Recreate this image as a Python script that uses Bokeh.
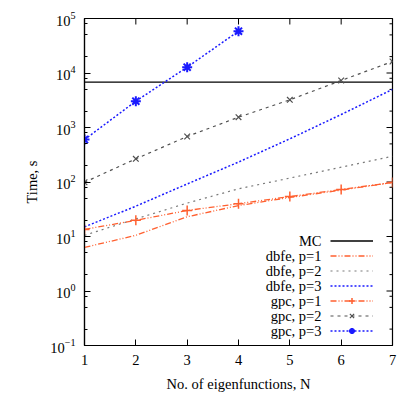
import math
from bokeh.plotting import figure
from bokeh.models import FixedTicker, Legend, LegendItem, Label
from bokeh.core.properties import value
from bokeh.embed import file_html
from bokeh.resources import INLINE

# ---------------- data ----------------
N = [1, 2, 3, 4, 5, 6, 7]
N_GPC3 = [1, 2, 3, 4]
MC_TIME = 6800
dbfe_p1 = [6.3, 10.5, 23.0, 37.0, 52.0, 71.0, 98.0]
dbfe_p2 = [10.5, 21.0, 41.0, 75.0, 118.0, 187.0, 297.0]
dbfe_p3 = [15.0, 36.0, 92.0, 232.0, 620.0, 1730.0, 5000.0]
gpc_p1 = [13.5, 19.8, 30.0, 40.0, 54.0, 73.0, 98.0]
gpc_p2 = [99.0, 266.0, 684.0, 1545.0, 3220.0, 7280.0, 16250.0]
gpc_p3 = [600.0, 3040.0, 12800.0, 58500.0]

x_ticks = [1, 2, 3, 4, 5, 6, 7]
y_major = [0.1, 1, 10, 100, 1000, 10000, 100000]
y_minor_mult = [2, 5, 8]

legend_labels = ["MC", "dbfe, p=1", "dbfe, p=2", "dbfe, p=3",
                 "gpc, p=1", "gpc, p=2", "gpc, p=3"]

# ---------------- styles ----------------
FONT = "Liberation Serif"
FS = "14.5px"
ORANGE = "#ff6030"
GRAY_LT = "#7a7a7a"
GRAY_DK = "#505050"
BLUE = "#1a1aff"
DASHDOT2 = "6 2 1 2 1 2"
MAJOR_LEN = 6
MINOR_LEN = 3

p = figure(width=410, height=395, x_range=(x_ticks[0], x_ticks[-1]),
           y_range=(y_major[0], y_major[-1]),
           y_axis_type="log", output_backend="svg", toolbar_location=None,
           min_border_left=84, min_border_right=18, min_border_top=18,
           min_border_bottom=50)
p.xgrid.visible = False
p.ygrid.visible = False
p.outline_line_color = "black"
p.outline_line_width = 1.2

y_minor = [m * t for t in y_major[:-1] for m in y_minor_mult]
yticker = FixedTicker(ticks=y_major, minor_ticks=y_minor)
xticker = FixedTicker(ticks=x_ticks, minor_ticks=[])


def style_axis(ax, standoff):
    ax.axis_line_color = "black"
    ax.axis_line_width = 1.2
    ax.major_tick_in = MAJOR_LEN
    ax.major_tick_out = 0
    ax.minor_tick_in = MINOR_LEN
    ax.minor_tick_out = 0
    ax.major_tick_line_color = "black"
    ax.minor_tick_line_color = "black"
    ax.major_label_text_font = FONT
    ax.major_label_text_color = "black"
    ax.major_label_text_font_size = FS
    ax.major_label_standoff = standoff
    ax.axis_label_text_font = FONT
    ax.axis_label_text_font_size = FS
    ax.axis_label_text_font_style = "normal"
    ax.axis_label_text_color = "black"


xa = p.xaxis[0]
xa.ticker = xticker
style_axis(xa, 9)
xa.axis_label = "No. of eigenfunctions, N"
xa.axis_label_standoff = 8

ya = p.yaxis[0]
ya.ticker = yticker
style_axis(ya, 9)
ya.axis_label = "Time, s"
ya.axis_label_standoff = 7

# mirrored tick marks on the right and top edges (gnuplot style)
x_end = x_ticks[-1]
y_end = y_major[-1]
p.ray(x=[x_end] * len(y_major), y=y_major, length=MAJOR_LEN, length_units="screen",
      angle=math.pi, line_color="black", line_width=1)
p.ray(x=[x_end] * len(y_minor), y=y_minor, length=MINOR_LEN, length_units="screen",
      angle=math.pi, line_color="black", line_width=1)
p.ray(x=x_ticks, y=[y_end] * len(x_ticks), length=MAJOR_LEN, length_units="screen",
      angle=-math.pi / 2, line_color="black", line_width=1)

# ---------------- glyphs ----------------
r_mc = p.line([N[0], N[-1]], [MC_TIME, MC_TIME], line_color="black", line_width=1.3)
r_d1 = p.line(N, dbfe_p1, line_color=ORANGE, line_width=1.3, line_dash=DASHDOT2)
r_d2 = p.line(N, dbfe_p2, line_color=GRAY_LT, line_width=1.2, line_dash="2 4")
r_d3 = p.line(N, dbfe_p3, line_color=BLUE, line_width=1.5, line_dash="2 2")
r_g1 = p.line(N, gpc_p1, line_color=ORANGE, line_width=1.3, line_dash=DASHDOT2)
s_g1 = p.scatter(N, gpc_p1, marker="cross", size=10, line_color=ORANGE, line_width=1.5)
r_g2 = p.line(N, gpc_p2, line_color=GRAY_DK, line_width=1.2, line_dash="3 4")
s_g2 = p.scatter(N, gpc_p2, marker="x", size=8, line_color=GRAY_DK, line_width=1.2)
r_g3 = p.line(N_GPC3, gpc_p3, line_color=BLUE, line_width=1.5, line_dash="2 2")
s_g3 = p.scatter(N_GPC3, gpc_p3, marker="asterisk", size=10, line_color=BLUE, line_width=2)

# ---------------- legend (samples right of right-aligned text) ----------------
renderer_groups = [[r_mc], [r_d1], [r_d2], [r_d3], [r_g1, s_g1], [r_g2, s_g2], [r_g3, s_g3]]
items = [LegendItem(label=value(" "), renderers=g) for g in renderer_groups]
ROW_H = 15
LEG_X = 246
LEG_BOTTOM = 7
leg = Legend(items=items, location=(LEG_X, LEG_BOTTOM), glyph_width=43, glyph_height=ROW_H,
             label_height=ROW_H, label_width=0, label_standoff=0, spacing=0,
             padding=0, margin=0, background_fill_alpha=0, border_line_alpha=0,
             label_text_font=FONT, label_text_font_size=FS)
p.add_layout(leg)

n_rows = len(legend_labels)
top_row_center = LEG_BOTTOM + ROW_H * n_rows - ROW_H / 2
for i, lab in enumerate(legend_labels):
    p.add_layout(Label(x=LEG_X - 9, y=top_row_center - i * ROW_H, x_units="screen",
                       y_units="screen", text=lab, text_align="right",
                       text_baseline="middle", text_font=FONT, text_font_size=FS,
                       text_color="black"))

open("out.html", "w").write(file_html(p, INLINE))
